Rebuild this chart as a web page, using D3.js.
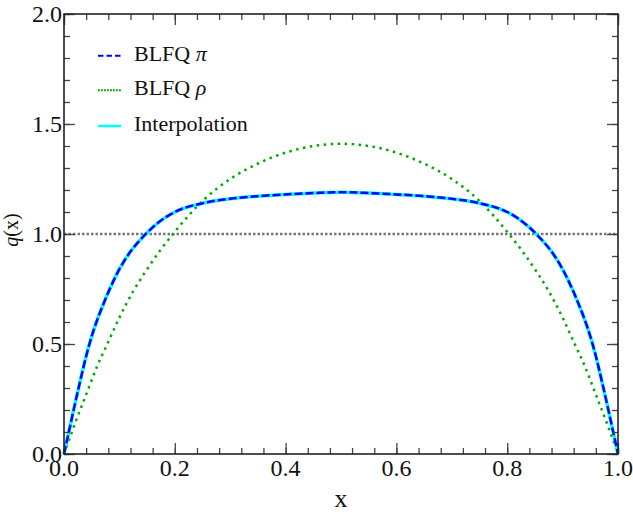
<!DOCTYPE html>
<html><head><meta charset="utf-8">
<script src="https://cdn.jsdelivr.net/npm/d3@7"></script>
<style>svg text, svg tspan { font-family: "Liberation Serif", "Tinos", "Times New Roman", monospace !important; }</style>
</head><body style="margin:0"><svg id="c" width="633" height="514"></svg>
<script>
// Data
const pionX = [0,0.01,0.02,0.03,0.04,0.05,0.06,0.07,0.08,0.10,0.12,0.14,0.16,0.18,0.20,0.25,0.30,0.35,0.40,0.45,0.50,
               0.55,0.60,0.65,0.70,0.75,0.80,0.82,0.84,0.86,0.88,0.90,0.92,0.93,0.94,0.95,0.96,0.97,0.98,0.99,1.0];
const pionY = [0,0.115,0.23,0.34,0.445,0.535,0.61,0.675,0.735,0.84,0.92,0.98,1.03,1.07,1.10,1.14,1.16,1.172,1.18,1.186,1.19,
               1.186,1.18,1.172,1.16,1.14,1.10,1.07,1.03,0.98,0.92,0.84,0.735,0.675,0.61,0.535,0.445,0.34,0.23,0.115,0];
const rhoX = [0,0.01,0.02,0.04,0.06,0.08,0.10,0.125,0.15,0.175,0.20,0.25,0.30,0.35,0.40,0.45,0.50,
              0.55,0.60,0.65,0.70,0.75,0.80,0.825,0.85,0.875,0.90,0.92,0.94,0.96,0.98,0.99,1.0];
const rhoY = [0,0.07,0.14,0.27,0.40,0.51,0.62,0.74,0.84,0.93,1.01,1.15,1.25,1.32,1.37,1.40,1.41,
              1.40,1.37,1.32,1.25,1.15,1.01,0.93,0.84,0.74,0.62,0.51,0.40,0.27,0.14,0.07,0];
const refLine = 1.0;
const xTicks = [0,0.2,0.4,0.6,0.8,1.0];
const yTicks = [0,0.5,1.0,1.5,2.0];
const legendLabels = [["BLFQ ","π"],["BLFQ ","ρ"],["Interpolation",""]];

const FONT = '"Liberation Serif", "Tinos", "Times New Roman", monospace';
const svg = d3.select("#c");
const L=64,R=618,T=14,B=454;
const x = d3.scaleLinear().domain([0,1]).range([L,R]);
const y = d3.scaleLinear().domain([0,2]).range([B,T]);

function txt(parent, px, py, size, anchor){
  return parent.append("text").style("font-family",FONT).attr("fill","#111")
    .attr("font-size",size).attr("text-anchor",anchor||"start").attr("x",px).attr("y",py);
}

const gp = svg.append("g");
gp.append("line").attr("x1",x(0)).attr("x2",x(1)).attr("y1",y(refLine)).attr("y2",y(refLine))
  .attr("stroke","#777").attr("stroke-width",2.4).attr("stroke-dasharray","2.5,2");

const line = d3.line().x(d=>x(d[0])).y(d=>y(d[1])).curve(d3.curveMonotoneX);
const pion = pionX.map((v,i)=>[v,pionY[i]]);
const rho = rhoX.map((v,i)=>[v,rhoY[i]]);

gp.append("path").attr("d",line(rho)).attr("fill","none").attr("stroke","#00aa00")
  .attr("stroke-width",2.5).attr("stroke-dasharray","2.5,4.5");
gp.append("path").attr("d",line(pion)).attr("fill","none").attr("stroke","#00ffff").attr("stroke-width",3.5);
gp.append("path").attr("d",line(pion)).attr("fill","none").attr("stroke","#0000ff")
  .attr("stroke-width",2.5).attr("stroke-dasharray","8,3");

const tickCol="#444";
function styleAxis(g){g.select(".domain").remove();g.selectAll("line").attr("stroke",tickCol).attr("stroke-width",1.3);g.selectAll("text").remove();}
const xMinor = d3.range(0,1.0001,0.04);
const yMinor = d3.range(0,2.0001,0.1);
svg.append("g").attr("transform",`translate(0,${B})`).call(d3.axisBottom(x).tickValues(xMinor).tickSize(-6)).call(styleAxis);
svg.append("g").attr("transform",`translate(0,${B})`).call(d3.axisBottom(x).tickValues(xTicks).tickSize(-11)).call(styleAxis);
svg.append("g").attr("transform",`translate(0,${T})`).call(d3.axisTop(x).tickValues(xMinor).tickSize(-6)).call(styleAxis);
svg.append("g").attr("transform",`translate(0,${T})`).call(d3.axisTop(x).tickValues(xTicks).tickSize(-11)).call(styleAxis);
svg.append("g").attr("transform",`translate(${L},0)`).call(d3.axisLeft(y).tickValues(yMinor).tickSize(-6)).call(styleAxis);
svg.append("g").attr("transform",`translate(${L},0)`).call(d3.axisLeft(y).tickValues(yTicks).tickSize(-11)).call(styleAxis);
svg.append("g").attr("transform",`translate(${R},0)`).call(d3.axisRight(y).tickValues(yMinor).tickSize(-6)).call(styleAxis);
svg.append("g").attr("transform",`translate(${R},0)`).call(d3.axisRight(y).tickValues(yTicks).tickSize(-11)).call(styleAxis);
svg.append("rect").attr("x",L).attr("y",T).attr("width",R-L).attr("height",B-T)
  .attr("fill","none").attr("stroke","#222").attr("stroke-width",1.6);

const xl = svg.append("g");
xTicks.forEach(v=>txt(xl, x(v), B+22, 24, "middle").text(d3.format(".1f")(v)));
const ylb = svg.append("g");
yTicks.forEach(v=>txt(ylb, L-2, y(v)+8, 24, "end").text(d3.format(".1f")(v)));

txt(svg, x(0.5), 507, 26, "middle").text("x");
const yl = txt(svg, 0, 0, 20, "middle").attr("transform","translate(18,230) rotate(-90)");
yl.append("tspan").attr("font-style","italic").text("q");
yl.append("tspan").text("(x)");

const lg = svg.append("g");
const ly = [55.7,90.3,126];
const styles = [
  {stroke:"#0000ff",w:2,dash:"5.5,3"},
  {stroke:"#00aa00",w:2,dash:"1.8,1.2"},
  {stroke:"#00ffff",w:2.5,dash:null}
];
legendLabels.forEach((lab,i)=>{
  const s=styles[i];
  const ln=lg.append("line").attr("x1",98).attr("x2",121).attr("y1",ly[i]).attr("y2",ly[i])
    .attr("stroke",s.stroke).attr("stroke-width",s.w);
  if(s.dash) ln.attr("stroke-dasharray",s.dash);
  const t=txt(lg, 134, ly[i]+5, 22, "start");
  t.append("tspan").text(lab[0]);
  if(lab[1]) t.append("tspan").attr("font-style","italic").text(lab[1]);
});
</script></body></html>
